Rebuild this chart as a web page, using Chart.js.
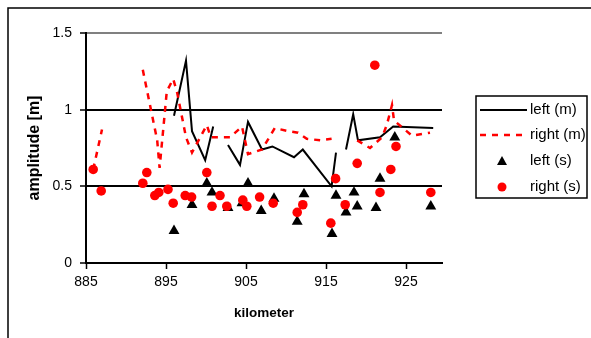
<!DOCTYPE html>
<html>
<head>
<meta charset="utf-8">
<script src="https://cdn.jsdelivr.net/npm/chart.js@4/dist/chart.umd.min.js"></script>
<style>
  body { margin: 0; background: #fff; }
  canvas { display: block; }
</style>
</head>
<body>
<canvas id="ampChart" width="591" height="338"></canvas>
<script>
// values (null = gap in the line)
const leftMKm = [896.0, 897.5, 898.25, 899.9, 900.9, null, 902.75, 904.25, 905.25, 907.0, 908.3, 911.0, 912.1, 915.7, 916.25, null, 917.5, 918.4, 919.0, 921.75, 923.4, 928.4];
const leftMAmp = [0.96, 1.32, 0.86, 0.67, 0.89, null, 0.77, 0.64, 0.92, 0.74, 0.76, 0.69, 0.74, 0.50, 0.72, null, 0.74, 0.97, 0.80, 0.82, 0.89, 0.88];

const rightMKm = [885.9, 887.0, null, 892.1, 893.9, 894.2, 895.1, 895.9, 896.4, 897.5, 898.25, 900.1, 900.6, 903.0, 904.5, 905.25, 907.0, 908.6, 910.3, 911.5, 912.6, 914.3, 915.7, null, 918.9, 920.5, 922.0, 922.6, 923.25, 923.5, 925.75, 928.0];
const rightMAmp = [0.61, 0.87, null, 1.26, 0.80, 0.62, 1.12, 1.20, 1.11, 0.82, 0.72, 0.90, 0.82, 0.82, 0.89, 0.71, 0.74, 0.88, 0.86, 0.85, 0.81, 0.80, 0.81, null, 0.80, 0.75, 0.82, 0.90, 1.03, 0.93, 0.83, 0.85];

const leftSKm = [896.0, 898.25, 900.1, 900.75, 902.75, 904.5, 905.25, 906.9, 908.5, 911.4, 912.25, 915.75, 916.25, 917.5, 918.5, 918.9, 921.25, 921.75, 923.6, 928.1];
const leftSAmp = [0.21, 0.38, 0.52, 0.46, 0.36, 0.39, 0.52, 0.34, 0.42, 0.27, 0.45, 0.19, 0.44, 0.33, 0.46, 0.37, 0.36, 0.55, 0.82, 0.37];

const rightSKm = [885.9, 886.9, 892.1, 892.6, 893.6, 894.1, 895.25, 895.9, 897.4, 898.2, 900.1, 900.75, 901.75, 902.6, 904.6, 905.1, 906.7, 908.4, 911.4, 912.1, 915.6, 916.2, 917.4, 918.9, 921.1, 921.75, 923.1, 923.75, 928.1];
const rightSAmp = [0.61, 0.47, 0.52, 0.59, 0.44, 0.46, 0.48, 0.39, 0.44, 0.43, 0.59, 0.37, 0.44, 0.37, 0.41, 0.37, 0.43, 0.39, 0.33, 0.38, 0.26, 0.55, 0.38, 0.65, 1.29, 0.46, 0.61, 0.76, 0.46];

const xTicks = [885, 895, 905, 915, 925];
const yTicks = [0, 0.5, 1, 1.5];

const FONT = "'Liberation Sans', Arial, sans-serif";

function toPoints(xs, ys) {
    return xs.map((x, i) => ({ x: x, y: ys[i] }));
}

// outer frame (only top and left edges are visible in the original)
const chartFrame = {
    id: 'chartFrame',
    beforeDraw(chart) {
        const ctx = chart.ctx;
        ctx.save();
        ctx.fillStyle = '#fff';
        ctx.fillRect(0, 0, chart.width, chart.height);
        ctx.strokeStyle = '#000';
        ctx.lineWidth = 1.5;
        ctx.beginPath();
        ctx.moveTo(8, chart.height);
        ctx.lineTo(8, 8);
        ctx.lineTo(chart.width, 8);
        ctx.stroke();
        ctx.restore();
    }
};

// Excel-like boxed legend on the right
const boxLegend = {
    id: 'boxLegend',
    afterDraw(chart) {
        const ctx = chart.ctx;
        const sets = chart.data.datasets;
        const bx = 476, by = 96, bw = 111, bh = 102;
        const rows = [110, 135, 161, 187];
        ctx.save();
        ctx.strokeStyle = '#000';
        ctx.lineWidth = 1.5;
        ctx.strokeRect(bx, by, bw, bh);
        ctx.font = '15px ' + FONT;
        ctx.textBaseline = 'middle';
        ctx.textAlign = 'left';

        sets.forEach((ds, i) => {
            const y = rows[i];
            ctx.save();
            if (ds.type === 'line') {
                ctx.strokeStyle = ds.borderColor;
                ctx.lineWidth = ds.borderWidth;
                ctx.setLineDash(ds.borderDash || []);
                ctx.beginPath();
                ctx.moveTo(480, y);
                ctx.lineTo(527, y);
                ctx.stroke();
            } else {
                ctx.fillStyle = ds.backgroundColor;
                ctx.beginPath();
                if (ds.pointStyle === 'triangle') {
                    const r = 5;
                    ctx.moveTo(502, y - r);
                    ctx.lineTo(502 + r, y + r * 0.8);
                    ctx.lineTo(502 - r, y + r * 0.8);
                    ctx.closePath();
                } else {
                    ctx.arc(502, y, 4.5, 0, Math.PI * 2);
                }
                ctx.fill();
            }
            ctx.restore();
            ctx.fillStyle = '#000';
            ctx.fillText(ds.label, 530, y);
        });
        ctx.restore();
    }
};

const ctx = document.getElementById('ampChart').getContext('2d');
const ampChart = new Chart(ctx, {
    type: 'scatter',
    data: {
        datasets: [{
            type: 'line',
            label: 'left (m)',
            data: toPoints(leftMKm, leftMAmp),
            borderColor: '#000',
            backgroundColor: '#000',
            borderWidth: 2,
            pointRadius: 0,
            spanGaps: false,
            tension: 0,
            order: 4
        }, {
            type: 'line',
            label: 'right (m)',
            data: toPoints(rightMKm, rightMAmp),
            borderColor: '#ff0000',
            backgroundColor: '#ff0000',
            borderWidth: 2.5,
            borderDash: [6, 6],
            pointRadius: 0,
            spanGaps: false,
            tension: 0,
            order: 3
        }, {
            label: 'left (s)',
            data: toPoints(leftSKm, leftSAmp),
            pointStyle: 'triangle',
            pointRadius: 6.3,
            backgroundColor: '#000',
            borderColor: '#000',
            borderWidth: 0,
            order: 2
        }, {
            label: 'right (s)',
            data: toPoints(rightSKm, rightSAmp),
            pointStyle: 'circle',
            pointRadius: 4.8,
            backgroundColor: '#ff0000',
            borderColor: '#ff0000',
            borderWidth: 0,
            order: 1
        }]
    },
    options: {
        responsive: false,
        animation: false,
        layout: {
            padding: { left: 0, right: 149, top: 33, bottom: 0 }
        },
        plugins: {
            legend: { display: false },
            tooltip: { enabled: false }
        },
        scales: {
            x: {
                type: 'linear',
                min: 885,
                max: 929.5,
                afterBuildTicks: scale => { scale.ticks = xTicks.map(v => ({ value: v })); },
                afterFit: scale => { scale.height = 75; },
                ticks: {
                    color: '#000',
                    padding: 5,
                    maxRotation: 0,
                    font: { family: FONT, size: 14 },
                    callback: v => String(v)
                },
                grid: {
                    drawOnChartArea: false,
                    drawTicks: true,
                    tickLength: 6,
                    tickColor: '#000',
                    tickWidth: 1.5
                },
                border: { display: true, color: '#000', width: 2 },
                title: {
                    display: true,
                    text: 'kilometer',
                    color: '#000',
                    font: { family: FONT, size: 13.5, weight: 'bold' },
                    padding: { top: 0, bottom: 17 }
                }
            },
            y: {
                type: 'linear',
                min: 0,
                max: 1.5,
                afterBuildTicks: scale => { scale.ticks = yTicks.map(v => ({ value: v })); },
                afterFit: scale => { scale.width = 86; },
                ticks: {
                    color: '#000',
                    padding: 8,
                    font: { family: FONT, size: 14 },
                    callback: v => String(v)
                },
                grid: {
                    color: c => (c.tick && c.tick.value === 1.5) ? '#808080' : '#000',
                    lineWidth: 2,
                    drawTicks: true,
                    tickLength: 6,
                    tickColor: '#000',
                    tickWidth: 1.5
                },
                border: { display: true, color: '#000', width: 2 },
                title: {
                    display: true,
                    text: 'amplitude [m]',
                    color: '#000',
                    font: { family: FONT, size: 16, weight: 'bold' },
                    padding: { top: 25, bottom: 0 }
                }
            }
        }
    },
    plugins: [chartFrame, boxLegend]
});
</script>
</body>
</html>
